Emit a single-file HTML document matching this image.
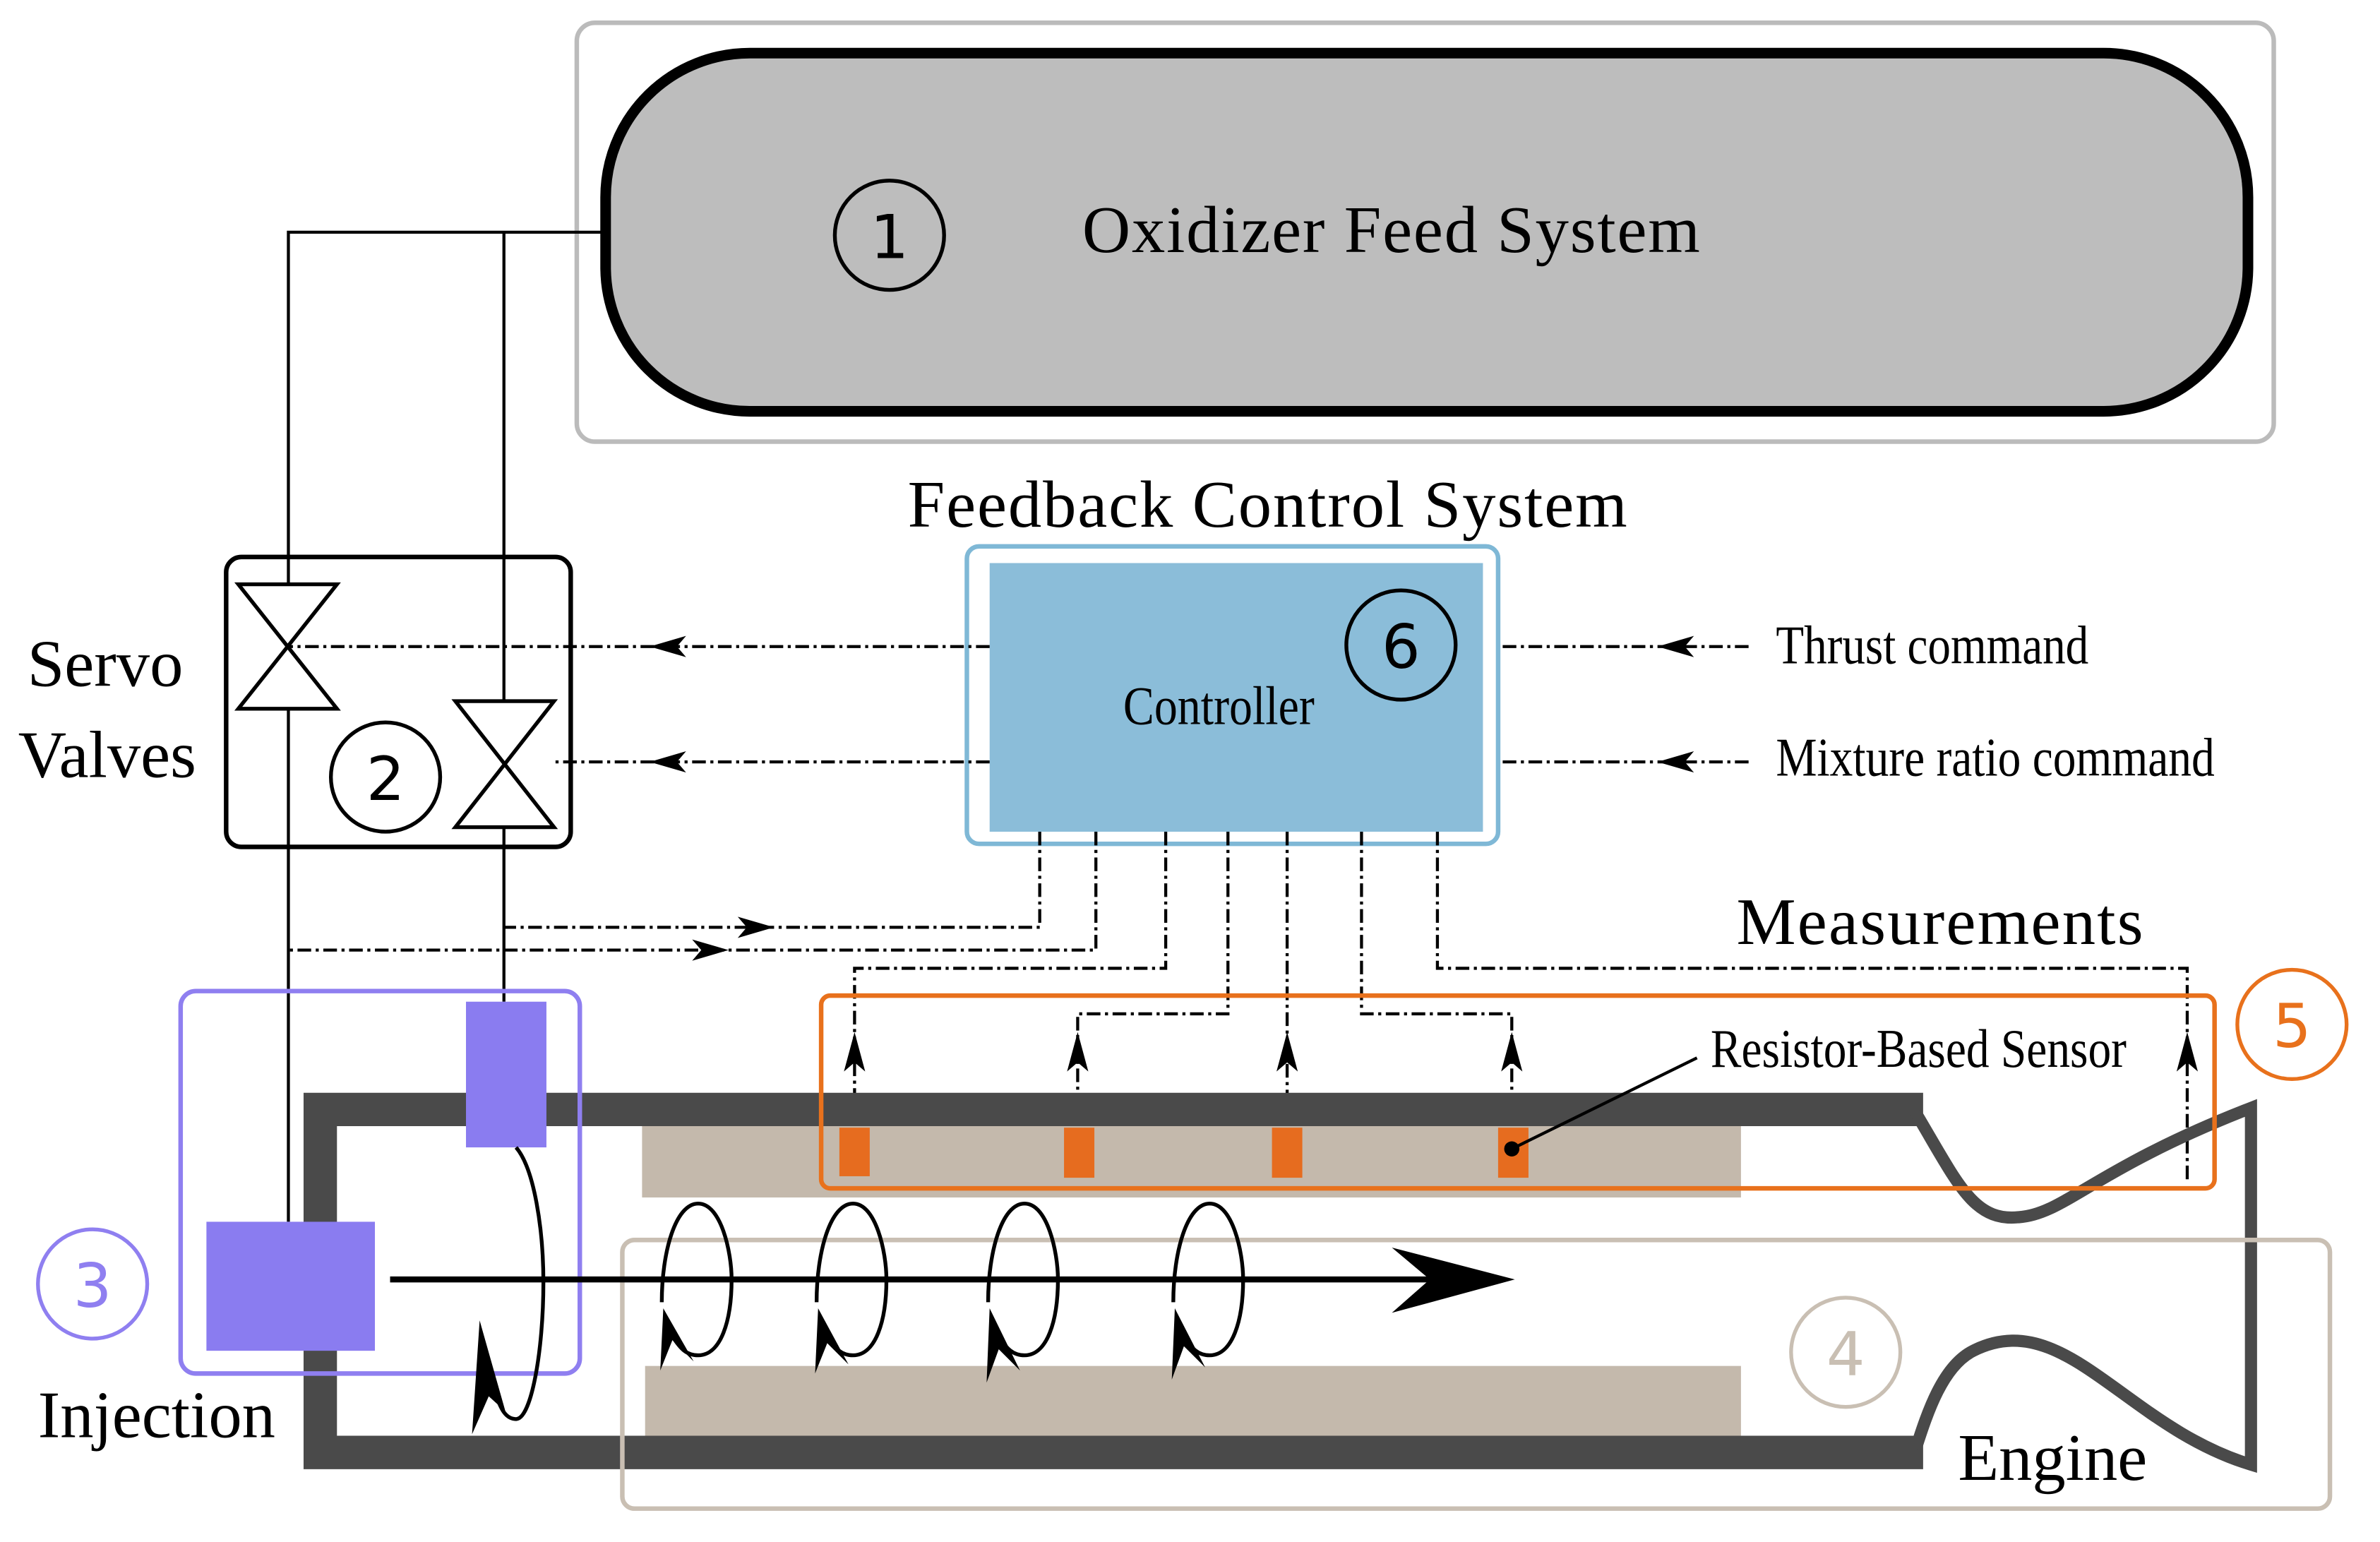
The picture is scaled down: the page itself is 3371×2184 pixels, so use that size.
<!DOCTYPE html>
<html><head><meta charset="utf-8"><style>
html,body{margin:0;padding:0;background:#fff}
svg{display:block}
text{font-family:"Liberation Serif",serif}
.n{font-family:"DejaVu Sans","Liberation Sans",sans-serif}
.c{font-family:"Liberation Serif",serif}
.d{fill:none;stroke:#000;stroke-width:2;stroke-dasharray:9 3 2 3}
</style></head><body>
<svg width="3371" height="2184" viewBox="0 0 1568 1016" preserveAspectRatio="none" xmlns="http://www.w3.org/2000/svg">
<!-- oxidizer -->
<rect x="380" y="15" width="1118" height="276" rx="12" fill="none" stroke="#bbb" stroke-width="3"/>
<rect x="399" y="35" width="1082" height="236" rx="95" fill="#bdbdbd" stroke="#000" stroke-width="7"/>
<circle cx="586" cy="155" r="36" fill="none" stroke="#000" stroke-width="2.5"/>
<text x="586" y="170" font-size="40" text-anchor="middle" class="n">1</text>
<text x="713" y="166" font-size="44" textLength="407">Oxidizer Feed System</text>
<!-- feed lines -->
<path d="M397,153 H190 V805" fill="none" stroke="#000" stroke-width="2"/>
<path d="M332,153 V660" fill="none" stroke="#000" stroke-width="2"/>
<!-- servo -->
<rect x="149" y="367" width="227" height="191" rx="10" fill="none" stroke="#000" stroke-width="3"/>
<path d="M157,385 L222,385 L157,467 L222,467 Z" fill="#fff" stroke="#000" stroke-width="2.5"/>
<path d="M300,462 L365,462 L300,545 L365,545 Z" fill="#fff" stroke="#000" stroke-width="2.5"/>
<circle cx="254" cy="512" r="36" fill="#fff" stroke="#000" stroke-width="2.5"/>
<text x="254" y="527" font-size="40" text-anchor="middle" class="n">2</text>
<text x="18" y="452" font-size="44">Servo</text>
<text x="12" y="512" font-size="44">Valves</text>
<!-- controller -->
<text x="598" y="347" font-size="44" textLength="474">Feedback Control System</text>
<rect x="637" y="360" width="350" height="196" rx="8" fill="none" stroke="#7fb8d6" stroke-width="3"/>
<rect x="652" y="371" width="325" height="177" fill="#8bbdd9"/>
<circle cx="923" cy="425" r="36" fill="none" stroke="#000" stroke-width="2.5"/>
<text x="923" y="440" font-size="40" text-anchor="middle" class="n">6</text>
<text x="740" y="477" font-size="36" class="c" textLength="126" lengthAdjust="spacingAndGlyphs">Controller</text>
<!-- valve commands -->
<path class="d" d="M652,426 H190"/>
<path class="d" d="M652,502 H365"/>
<path d="M428,426 l24,-7 -6,7 6,7z M428,502 l24,-7 -6,7 6,7z" fill="#000"/>
<path class="d" d="M1152,426 H987"/>
<path class="d" d="M1152,502 H987"/>
<path d="M1092,426 l24,-7 -6,7 6,7z M1092,502 l24,-7 -6,7 6,7z" fill="#000"/>
<text x="1170" y="437" font-size="36" class="c" textLength="206" lengthAdjust="spacingAndGlyphs">Thrust command</text>
<text x="1170" y="511" font-size="36" class="c" textLength="289" lengthAdjust="spacingAndGlyphs">Mixture ratio command</text>
<!-- measurement lines -->
<path class="d" d="M685,548 V611 H332"/>
<path class="d" d="M722,548 V626 H190"/>
<path d="M510,611 l-24,-7 6,7 -6,7z M480,626 l-24,-7 6,7 -6,7z" fill="#000"/>
<path class="d" d="M768,548 V638 H563 V745"/>
<path class="d" d="M809,548 V668 H710 V745"/>
<path class="d" d="M848,548 V745"/>
<path class="d" d="M897,548 V668 H996 V745"/>
<path class="d" d="M947,548 V638 H1441 V778"/>
<path d="M563,680 l-7,26 7,-6 7,6z M710,680 l-7,26 7,-6 7,6z M848,680 l-7,26 7,-6 7,6z M996,680 l-7,26 7,-6 7,6z M1441,680 l-7,26 7,-6 7,6z" fill="#000"/>
<text x="1144" y="622" font-size="44" textLength="268">Measurements</text>
<!-- engine -->
<rect x="423" y="742" width="724" height="47" fill="#c4b9ac"/>
<rect x="425" y="900" width="722" height="46" fill="#c4b9ac"/>
<path d="M1267,731 H211 V957 H1267" fill="none" stroke="#4a4a4a" stroke-width="22"/>
<path d="M1262,733 C1290,780 1300,805 1330,802 C1360,800 1380,770 1483,730 V965 C1400,940 1360,860 1300,890 C1280,900 1270,930 1262,955" fill="none" stroke="#4a4a4a" stroke-width="8"/>
<!-- sensors -->
<rect x="553" y="743" width="20" height="32" fill="#e66c1f"/>
<rect x="701" y="743" width="20" height="33" fill="#e66c1f"/>
<rect x="838" y="743" width="20" height="33" fill="#e66c1f"/>
<rect x="987" y="743" width="20" height="33" fill="#e66c1f"/>
<rect x="541" y="656" width="918" height="127" rx="6" fill="none" stroke="#e8711c" stroke-width="3"/>
<circle cx="1510" cy="675" r="36" fill="none" stroke="#e8711c" stroke-width="2.5"/>
<text x="1510" y="690" font-size="40" text-anchor="middle" class="n" fill="#e8711c">5</text>
<path d="M1118,697 L996,757" stroke="#000" stroke-width="2"/>
<circle cx="996" cy="757" r="5" fill="#000"/>
<text x="1127" y="703" font-size="36" class="c" textLength="274" lengthAdjust="spacingAndGlyphs">Resistor-Based Sensor</text>
<!-- injection -->
<rect x="307" y="660" width="53" height="96" fill="#8a7cf0"/>
<rect x="136" y="805" width="111" height="85" fill="#8a7cf0"/>
<rect x="119" y="653" width="263" height="252" rx="10" fill="none" stroke="#8f7ff0" stroke-width="3"/>
<circle cx="61" cy="846" r="36" fill="none" stroke="#8f7ff0" stroke-width="2.5"/>
<text x="61" y="861" font-size="40" text-anchor="middle" class="n" fill="#8f7ff0">3</text>
<text x="25" y="947" font-size="44">Injection</text>
<!-- tan box -->
<rect x="410" y="817" width="1125" height="177" rx="8" fill="none" stroke="#c9bfb3" stroke-width="3"/>
<circle cx="1216" cy="891" r="36" fill="none" stroke="#c9bfb3" stroke-width="2.5"/>
<text x="1216" y="906" font-size="40" text-anchor="middle" class="n" fill="#c9bfb3">4</text>
<text x="1290" y="975" font-size="44">Engine</text>
<!-- flow arrow -->
<path d="M257,843 H960" stroke="#000" stroke-width="4"/>
<path d="M998,843 L917,822 L942,843 L917,865 Z" fill="#000"/>
<!-- swirls -->
<g fill="none" stroke="#000" stroke-width="2.5">
<path d="M436,858 C436,825 445,793 460,793 C475,793 482,825 482,843 C482,870 475,893 460,893 C452,893 448,888 444,882"/>
<path d="M538,858 C538,825 547,793 562,793 C577,793 584,825 584,843 C584,870 577,893 562,893 C554,893 550,888 546,882"/>
<path d="M651,858 C651,825 660,793 675,793 C690,793 697,825 697,843 C697,870 690,893 675,893 C667,893 663,888 659,882"/>
<path d="M773,858 C773,825 782,793 797,793 C812,793 819,825 819,843 C819,870 812,893 797,893 C789,893 785,888 781,882"/>
<path d="M340,756 C352,770 358,810 358,845 C358,890 350,935 340,935 C333,935 330,928 327,920"/>
</g>
<path d="M437,862 L435,903 L443,883 L457,897 Z M539,862 L537,905 L545,885 L559,899 Z M652,862 L650,911 L658,889 L672,903 Z M774,862 L772,909 L780,887 L794,901 Z M316,870 L311,945 L322,920 L333,930 Z" fill="#000"/>
</svg>
</body></html>
